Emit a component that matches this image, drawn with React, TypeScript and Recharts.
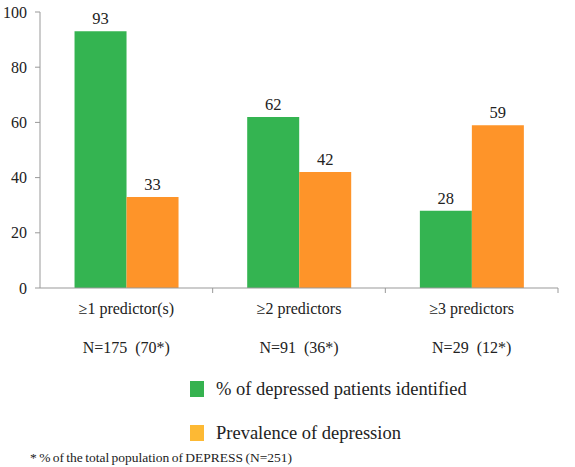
import React from "react";
import { BarChart, Bar, XAxis, YAxis, LabelList } from "recharts";

const categories = ["≥1 predictor(s)", "≥2 predictors", "≥3 predictors"];
const subLabels = ["N=175\u00a0 (70*)", "N=91\u00a0 (36*)", "N=29\u00a0 (12*)"];
const identified = [93, 62, 28];
const prevalence = [33, 42, 59];
const yTicks = [0, 20, 40, 60, 80, 100];
const seriesNames = ["% of depressed patients identified", "Prevalence of depression"];
const footnote = "* % of the total population of DEPRESS (N=251)";

const GREEN = "#34b451";
const ORANGE = "#fe9429";
const LEGEND_COLORS = ["#35b24f", "#fdb934"];
const FONT = "Liberation Serif, DejaVu Serif, serif";

const data = categories.map((c, i) => ({
  name: c,
  sub: subLabels[i],
  identified: identified[i],
  prevalence: prevalence[i],
}));

const W = 575;
const H = 467;
const margin = { top: 12, right: 17, bottom: 119, left: 0 };
const Y_W = 40;
const bandWidth = (W - margin.left - margin.right - Y_W) / categories.length;

const XTick = (props: any) => {
  const { x, y, payload, index } = props;
  const sub = subLabels[index] ?? "";
  const axisY = y - 8;
  return (
    <g>
      <line x1={x + bandWidth / 2} x2={x + bandWidth / 2} y1={axisY} y2={axisY + 5} stroke="#999" />
      <text x={x} y={axisY + 26} textAnchor="middle" style={{ fontFamily: FONT }} fontSize={16} fill="#222">
        {payload.value}
      </text>
      <text x={x} y={axisY + 65} textAnchor="middle" style={{ fontFamily: FONT }} fontSize={16} fill="#222">
        {sub}
      </text>
    </g>
  );
};

export default function App() {
  return (
    <div style={{ position: "absolute", left: 0, top: 0, width: W, height: H, background: "#fff", fontFamily: FONT }}>
      <BarChart width={W} height={H} data={data} margin={margin} barCategoryGap="20%" barGap={0} style={{ fontFamily: FONT }}>
        <XAxis dataKey="name" stroke="#999" tickLine={false} tick={<XTick />} height={60} interval={0} />
        <YAxis
          domain={[0, 100]}
          ticks={yTicks}
          width={Y_W}
          stroke="#999"
          tickSize={5}
          tickMargin={8}
          tick={{ fill: "#222", fontFamily: FONT, fontSize: 16 }}
        />
        <Bar dataKey="identified" name={seriesNames[0]} fill={GREEN} isAnimationActive={false}>
          <LabelList dataKey="identified" position="top" offset={7} fill="#222" fontFamily={FONT} fontSize={16.5} />
        </Bar>
        <Bar dataKey="prevalence" name={seriesNames[1]} fill={ORANGE} isAnimationActive={false}>
          <LabelList dataKey="prevalence" position="top" offset={7} fill="#222" fontFamily={FONT} fontSize={16.5} />
        </Bar>
      </BarChart>
      <div style={{ position: "absolute", left: 0, top: 381, width: W, color: "#222" }}>
        {LEGEND_COLORS.map((col, i) => (
          <div key={i} style={{ display: "flex", alignItems: "center", marginLeft: 190, height: 16, marginBottom: i === 0 ? 28 : 0 }}>
            <div style={{ width: 14, height: 16, background: col, marginRight: 12 }} />
            <span style={{ fontSize: 18.5, whiteSpace: "nowrap" }}>{seriesNames[i]}</span>
          </div>
        ))}
      </div>
      <div style={{ position: "absolute", left: 30, top: 449, fontSize: 13.5, lineHeight: "18px", whiteSpace: "nowrap", wordSpacing: -1, color: "#222" }}>
        {footnote}
      </div>
    </div>
  );
}
